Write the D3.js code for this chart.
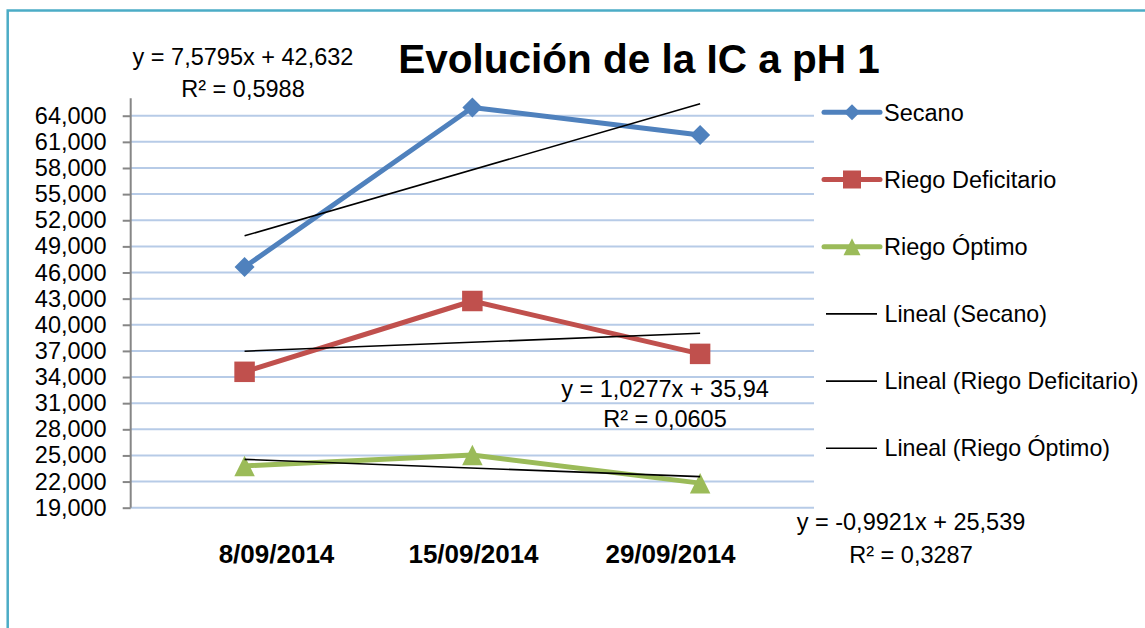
<!DOCTYPE html>
<html>
<head>
<meta charset="utf-8">
<script src="https://cdn.jsdelivr.net/npm/d3@7"></script>
<style>
  html, body { margin: 0; padding: 0; background: #ffffff; }
  svg { display: block; }
  text { font-family: "Liberation Sans", Arial, sans-serif; fill: #000; }
</style>
</head>
<body>
<svg id="chart" width="1145" height="628"></svg>
<script>
// ---------------- data ----------------
const categories = ["8/09/2014", "15/09/2014", "29/09/2014"];
const seriesNames = ["Secano", "Riego Deficitario", "Riego Óptimo"];
const secano = [46.63, 64.95, 61.79];
const riegoDeficitario = [34.60, 42.73, 36.66];
const riegoOptimo = [23.80, 25.05, 21.82];
const seriesColors = ["#4F81BD", "#C0504D", "#9BBB59"];
const seriesMarkers = ["diamond", "square", "triangle"];
const trendNames = ["Lineal (Secano)", "Lineal (Riego Deficitario)", "Lineal (Riego Óptimo)"];
const trendSlopes = [7.5795, 1.0277, -0.9921];
const trendIntercepts = [42.632, 35.94, 25.539];
const trendEquations = ["y = 7,5795x + 42,632", "y = 1,0277x + 35,94", "y = -0,9921x + 25,539"];
const trendR2 = ["R² = 0,5988", "R² = 0,0605", "R² = 0,3287"];
const yTickValues = [19, 22, 25, 28, 31, 34, 37, 40, 43, 46, 49, 52, 55, 58, 61, 64];
const yTickLabels = ["19,000", "22,000", "25,000", "28,000", "31,000", "34,000", "37,000", "40,000",
                     "43,000", "46,000", "49,000", "52,000", "55,000", "58,000", "61,000", "64,000"];
const yDomain = [19, 66];
const titleText = "Evolución de la IC a pH 1";

const seriesValues = [secano, riegoDeficitario, riegoOptimo];

// ---------------- layout ----------------
const svg = d3.select("#chart");
const plot = { left: 130.7, right: 814, top: 98.3, bottom: 507.7 };

const x = d3.scalePoint().domain(categories).range([plot.left, plot.right]).padding(0.5);
const xLabel = d3.scalePoint().domain(categories).range([276.5, 670.5]);
const xNum = d3.scaleLinear().domain([1, categories.length]).range([x(categories[0]), x(categories[categories.length - 1])]);
const y = d3.scaleLinear().domain(yDomain).range([plot.bottom, plot.top]);

// outer frame
svg.append("rect")
  .attr("x", 7.7).attr("y", 10.5).attr("width", 1300).attr("height", 800)
  .attr("fill", "none").attr("stroke", "#4BACC6").attr("stroke-width", 2.5);

// gridlines
svg.append("g").selectAll("line").data(yTickValues).join("line")
  .attr("x1", plot.left).attr("x2", plot.right)
  .attr("y1", d => y(d)).attr("y2", d => y(d))
  .attr("stroke", "#B7CBE7").attr("stroke-width", 2);

// y axis
const yAxis = d3.axisLeft(y).tickValues(yTickValues)
  .tickFormat((d, i) => yTickLabels[i]).tickSize(8).tickPadding(16);
const gy = svg.append("g").attr("transform", `translate(${plot.left},0)`).call(yAxis);
gy.select(".domain").attr("stroke", "#868686").attr("stroke-width", 2)
  .attr("d", `M0,${plot.top}V${plot.bottom}`);
gy.selectAll(".tick line").attr("stroke", "#868686").attr("stroke-width", 2);
gy.selectAll(".tick text").attr("font-size", 23.5)
  .attr("font-family", "Liberation Sans, Arial, sans-serif").attr("fill", "#000");

// x category labels
svg.append("g").selectAll("text").data(categories).join("text")
  .attr("x", d => xLabel(d)).attr("y", 563)
  .attr("text-anchor", "middle").attr("font-size", 26).attr("font-weight", "bold")
  .text(d => d);

// markers
function markerPath(type, s) {
  const h = s / 2;
  if (type === "diamond") return `M0,${-h}L${h},0L0,${h}L${-h},0Z`;
  if (type === "square") return `M${-h},${-h}H${h}V${h}H${-h}Z`;
  return `M0,${-h}L${h},${h}L${-h},${h}Z`;
}
const markerSize = [20, 20.5, 20.5];
const legendMarkerSize = [16, 18, 17];

// series lines
const line = d3.line().x((d, i) => x(categories[i])).y(d => y(d));
seriesValues.forEach((vals, s) => {
  svg.append("path").datum(vals).attr("d", line)
    .attr("fill", "none").attr("stroke", seriesColors[s]).attr("stroke-width", 5)
    .attr("stroke-linejoin", "round");
  svg.append("g").selectAll("path").data(vals).join("path")
    .attr("transform", (d, i) => `translate(${x(categories[i])},${y(d)})`)
    .attr("d", markerPath(seriesMarkers[s], markerSize[s]))
    .attr("fill", seriesColors[s]);
});

// trend lines
trendSlopes.forEach((m, s) => {
  const b = trendIntercepts[s];
  const x0 = 1, x1 = categories.length;
  svg.append("line")
    .attr("x1", xNum(x0)).attr("y1", y(m * x0 + b))
    .attr("x2", xNum(x1)).attr("y2", y(m * x1 + b))
    .attr("stroke", "#000").attr("stroke-width", 1.6);
});

// trend labels
const trendLabelPos = [
  { x: 243, y: 65, dy: 31.5 },
  { x: 665, y: 396.5, dy: 30.5 },
  { x: 911, y: 530, dy: 33 }
];
trendEquations.forEach((eq, s) => {
  const p = trendLabelPos[s];
  const g = svg.append("g");
  g.append("text").attr("x", p.x).attr("y", p.y).attr("text-anchor", "middle")
    .attr("font-size", 23.5).text(eq);
  g.append("text").attr("x", p.x).attr("y", p.y + p.dy).attr("text-anchor", "middle")
    .attr("font-size", 23.5).text(trendR2[s]);
});

// title
svg.append("text").attr("x", 639).attr("y", 73).attr("text-anchor", "middle")
  .attr("font-size", 40.5).attr("font-weight", "bold").text(titleText);

// legend
const legendY0 = 112.3, legendStep = 67.2;
const legend = svg.append("g");
seriesNames.forEach((name, s) => {
  const ly = legendY0 + s * legendStep;
  legend.append("line").attr("x1", 824).attr("x2", 880).attr("y1", ly).attr("y2", ly)
    .attr("stroke", seriesColors[s]).attr("stroke-width", 5).attr("stroke-linecap", "round");
  legend.append("path").attr("transform", `translate(852,${ly})`)
    .attr("d", markerPath(seriesMarkers[s], legendMarkerSize[s])).attr("fill", seriesColors[s]);
  legend.append("text").attr("x", 884).attr("y", ly).attr("dy", "0.35em")
    .attr("font-size", 23.5).text(name);
});
trendNames.forEach((name, s) => {
  const ly = legendY0 + (s + 3) * legendStep;
  legend.append("line").attr("x1", 826).attr("x2", 877).attr("y1", ly).attr("y2", ly)
    .attr("stroke", "#000").attr("stroke-width", 1.6);
  legend.append("text").attr("x", 884.5).attr("y", ly).attr("dy", "0.35em")
    .attr("font-size", 23.2).text(name);
});
</script>
</body>
</html>
